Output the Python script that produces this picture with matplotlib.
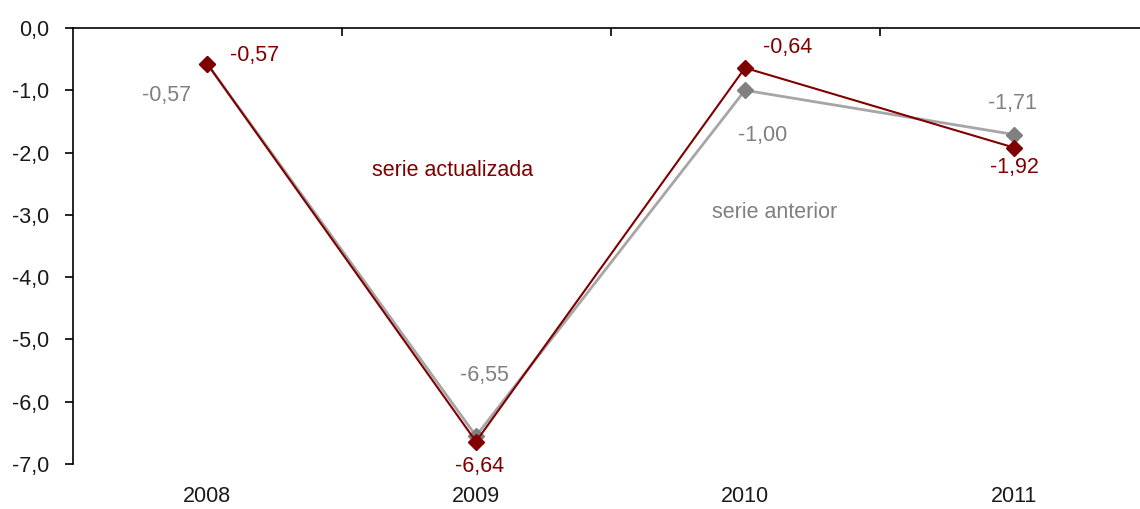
import matplotlib
matplotlib.use("Agg")
import matplotlib.pyplot as plt

years = ["2008", "2009", "2010", "2011"]
serie_actualizada = [-0.57, -6.64, -0.64, -1.92]
serie_anterior = [-0.57, -6.55, -1.00, -1.71]
y_ticks = [0, -1, -2, -3, -4, -5, -6, -7]

RED = "#800000"
GRAY_M = "#808080"
GRAY_L = "#A6A6A6"
FS = 15.5

plt.rcParams['font.family'] = ['Liberation Sans', 'DejaVu Sans']

W, H = 1140, 509
fig = plt.figure(figsize=(W / 100, H / 100), dpi=100)
left, right, top, bottom = 72.5, 1140, 28, 464
ax = fig.add_axes([left / W, (H - bottom) / H, (right - left) / W, (bottom - top) / H])

x = list(range(len(years)))
ax.plot(x, serie_anterior, color=GRAY_L, lw=2, marker="D", ms=8,
        mfc=GRAY_M, mec=GRAY_M, zorder=3)
ax.plot(x, serie_actualizada, color=RED, lw=1.5, marker="D", ms=8,
        mfc=RED, mec=RED, zorder=4)

ax.set_xlim(-0.5, 3 + (1140 - 1014) / 269)
ax.set_ylim(-7, 0)
ax.set_yticks(y_ticks)
ax.set_yticklabels([f"{v:.1f}".replace(".", ",") for v in y_ticks], fontsize=FS,
                   color="#1a1a1a")
ax.set_xticks(x)
ax.set_xticklabels(years, fontsize=FS, color="#1a1a1a")
ax.tick_params(axis="x", length=0, pad=16)
ax.tick_params(axis="y", direction="out", length=6, width=1.2, pad=11)
ax.set_xticks([0.5, 1.5, 2.5], minor=True)
ax.tick_params(axis="x", which="minor", top=True, bottom=False,
               direction="in", length=6, width=1.2)

for s in ["right", "bottom"]:
    ax.spines[s].set_visible(False)
for s in ["left", "top"]:
    ax.spines[s].set_linewidth(1.2)
    ax.spines[s].set_color("black")

def fmt(v):
    return f"{v:.2f}".replace(".", ",")

# offsets in pixels (x, y) for label centres
off_act = [(48, 8), (4, -25), (43, 20), (0, -20)]
off_ant = [(-40, -32), (8, 60), (18, -45), (-2, 31)]
for i in x:
    ax.annotate(fmt(serie_actualizada[i]), (i, serie_actualizada[i]),
                xytext=off_act[i], textcoords="offset pixels",
                ha="center", va="center", color=RED, fontsize=FS)
    ax.annotate(fmt(serie_anterior[i]), (i, serie_anterior[i]),
                xytext=off_ant[i], textcoords="offset pixels",
                ha="center", va="center", color=GRAY_M, fontsize=FS)

ax.text(453 / W, 1 - 171 / H, "serie actualizada", transform=fig.transFigure,
        ha="center", va="center", color=RED, fontsize=FS)
ax.text(775 / W, 1 - 213 / H, "serie anterior", transform=fig.transFigure,
        ha="center", va="center", color=GRAY_M, fontsize=FS)

fig.savefig("out.png", dpi=100)
